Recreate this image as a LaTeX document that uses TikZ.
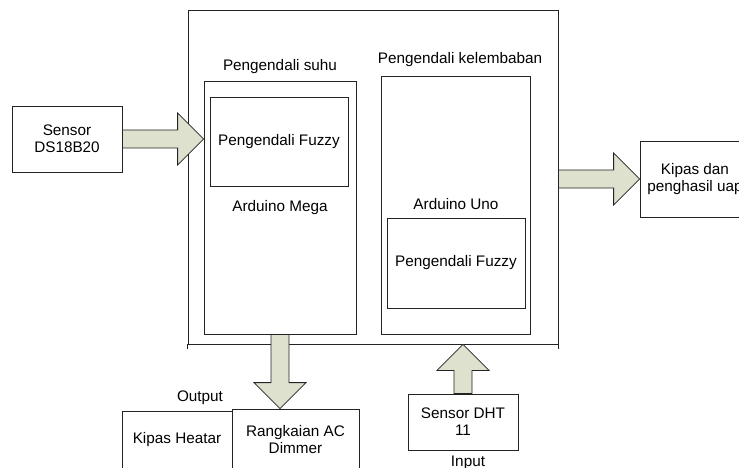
\documentclass[tikz,border=0pt]{standalone}
\usepackage{fontspec}
\setmainfont{Liberation Sans}
\usetikzlibrary{calc}
\definecolor{arrfill}{RGB}{221,225,205}
\definecolor{ln}{RGB}{35,35,35}
\newcommand\blockarrow[2]{%
  \coordinate (bh) at ($(#2)!26pt!(#1)$);
  \draw[barrow] ($(#1)!9pt!90:(#2)$) -- ($(bh)!9pt!90:(#2)$) -- ($(bh)!26pt!90:(#2)$) -- (#2)
    -- ($(bh)!26pt!-90:(#2)$) -- ($(bh)!9pt!-90:(#2)$) -- ($(#1)!9pt!-90:(#2)$) -- cycle;
}
\begin{document}
\begin{tikzpicture}[x=1pt,y=-1pt,
  font=\fontsize{15.3}{17}\selectfont,
  box/.style={draw=ln, line width=0.8pt, fill=white, align=center, inner sep=0pt},
  lbl/.style={inner sep=0pt, anchor=center},
  barrow/.style={draw=ln, line width=0.8pt, fill=arrfill, line join=miter}]
\useasboundingbox (0,0) rectangle (739,468);
\clip (0,0) rectangle (739,468);

% main controller frame
\node[box, minimum width=370pt, minimum height=334pt] (outer) at (373,177) {};
\draw[ln, line width=0.8pt] (outer.south west) -- ++(0,5);
\draw[ln, line width=0.8pt] (outer.south east) -- ++(0,5);

% Arduino Mega side
\node[box, minimum width=152pt, minimum height=253pt] (mega) at (280,207.5) {};
\node[box, minimum width=138pt, minimum height=89pt] (fz1) at (279,141.5) {Pengendali Fuzzy};
\node[lbl] (suhu) at (280,67) {Pengendali suhu};
\node[lbl] (megal) at (280,208) {Arduino Mega};

% Arduino Uno side
\node[box, minimum width=149pt, minimum height=258pt] (uno) at (455.5,205) {};
\node[box, minimum width=138pt, minimum height=90pt] (fz2) at (456,263) {Pengendali Fuzzy};
\node[lbl] (kel) at (460,60) {Pengendali kelembaban};
\node[lbl] (unol) at (456,204) {Arduino Uno};

% external blocks
\node[box, minimum width=110pt, minimum height=66pt] (ds) at (67,139) {Sensor\\DS18B20};
\node[box, minimum width=110pt, minimum height=76pt] (kipas) at (695,179) {Kipas dan\\penghasil uap};
\node[box, minimum width=110pt, minimum height=58pt] (heater) at (177,440) {Kipas Heatar};
\node[box, minimum width=127pt, minimum height=62pt] (dimmer) at (295.5,440) {Rangkaian AC\\Dimmer};
\node[box, minimum width=110pt, minimum height=56pt] (dht) at (463,422) {Sensor DHT\\11};
\node[lbl] (outl) at (200,398) {Output};
\node[lbl] (inl) at (468,463) {Input};

% connector end points
\coordinate (a1s) at (ds.east);
\coordinate (a1e) at (ds.east -| mega.west);
\coordinate (a2s) at (kipas.west -| outer.east);
\coordinate (a2e) at (kipas.west);
\coordinate (a3s) at (mega.south);
\coordinate (a3e) at (mega.south |- dimmer.north);
\coordinate (a4s) at (dht.north);
\coordinate (a4e) at (dht.north |- outer.south);

\blockarrow{a1s}{a1e}
\blockarrow{a2s}{a2e}
\blockarrow{a3s}{a3e}
\blockarrow{a4s}{a4e}
\end{tikzpicture}
\end{document}
